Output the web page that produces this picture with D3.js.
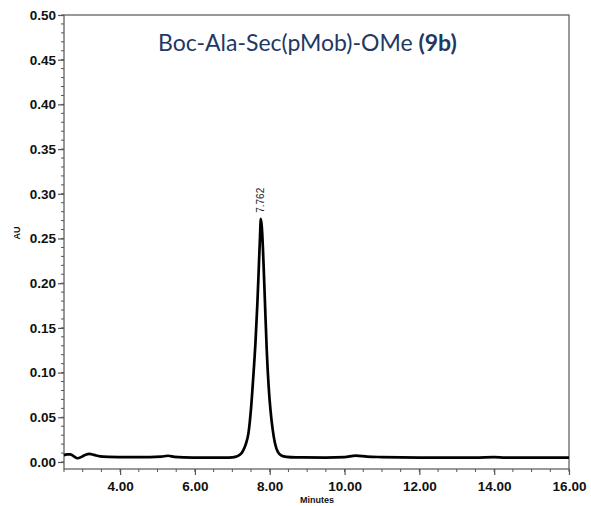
<!DOCTYPE html>
<html><head><meta charset="utf-8">
<script src="https://cdn.jsdelivr.net/npm/d3@7"></script>
<style>body{margin:0;background:#fff}svg{display:block}</style>
</head><body>
<svg id="c" width="591" height="506"></svg>
<script>
const times = [2.50,2.58,2.66,2.76,2.86,2.98,3.08,3.18,3.30,3.46,3.70,4.20,4.80,5.10,5.28,5.45,5.70,6.20,6.80,7.00,7.10,7.20,7.28,7.36,7.43,7.50,7.56,7.62,7.67,7.71,7.74,7.762,7.79,7.82,7.87,7.92,7.97,8.02,8.08,8.14,8.22,8.32,8.45,8.70,9.50,10.00,10.30,10.60,11.00,12.00,13.50,14.00,14.30,16.00];
const values = [0.0075,0.0085,0.0086,0.0065,0.0042,0.0060,0.0082,0.0090,0.0080,0.0063,0.0058,0.0055,0.0055,0.0060,0.0070,0.0058,0.0052,0.0050,0.0050,0.0052,0.0060,0.0080,0.0120,0.0200,0.0320,0.0600,0.0950,0.1350,0.1780,0.2200,0.2520,0.2720,0.2620,0.2370,0.1810,0.1250,0.0850,0.0580,0.0360,0.0210,0.0110,0.0070,0.0058,0.0052,0.0050,0.0055,0.0072,0.0060,0.0055,0.0050,0.0050,0.0055,0.0050,0.0050];
const xTicks = [4,6,8,10,12,14,16];
const yTicks = [0,0.05,0.10,0.15,0.20,0.25,0.30,0.35,0.40,0.45,0.50];
const peakTime = 7.762, peakValue = 0.272, peakLabel = "7.762";
const titleText = "Boc-Ala-Sec(pMob)-OMe ", titleBold = "(9b)";

const svg = d3.select("#c");
const L = 64, R = 569, T = 15, B = 469;
const x = d3.scaleLinear().domain([2.5, 16]).range([L, R]);
const y = d3.scaleLinear().domain([0, 0.5]).range([462, 15]);

// frame
svg.append("rect").attr("x", L).attr("y", T).attr("width", R - L).attr("height", B - T)
  .attr("fill", "none").attr("stroke", "#555").attr("stroke-width", 1.2);

// minor ticks
const xMinor = d3.range(2.5, 16.001, 0.5);
svg.append("g").selectAll("line").data(xMinor).join("line")
  .attr("x1", d => x(d)).attr("x2", d => x(d)).attr("y1", B).attr("y2", B + 3)
  .attr("stroke", "#555").attr("stroke-width", 1);
const yMinor = d3.range(0, 0.5001, 0.01);
svg.append("g").selectAll("line").data(yMinor).join("line")
  .attr("x1", L - 3).attr("x2", L).attr("y1", d => y(d)).attr("y2", d => y(d))
  .attr("stroke", "#555").attr("stroke-width", 1);

const xAxis = svg.append("g").attr("transform", `translate(0,${B})`)
  .call(d3.axisBottom(x).tickValues(xTicks).tickFormat(d3.format(".2f")).tickSize(6).tickPadding(6));
const yAxis = svg.append("g").attr("transform", `translate(${L},0)`)
  .call(d3.axisLeft(y).tickValues(yTicks).tickFormat(d3.format(".2f")).tickSize(6).tickPadding(2));
[xAxis, yAxis].forEach(g => {
  g.select(".domain").remove();
  g.selectAll(".tick line").attr("stroke", "#555").attr("stroke-width", 1.2);
  g.selectAll(".tick text").attr("fill", "#111").style("font-family", "Liberation Sans, Arial, sans-serif")
    .style("font-weight", "bold").style("font-size", "13.5px");
});

// trace
const line = d3.line().x((d, i) => x(times[i])).y(d => y(d)).curve(d3.curveMonotoneX);
svg.append("path").datum(values).attr("d", line).attr("fill", "none")
  .attr("stroke", "#000").attr("stroke-width", 2.7).attr("stroke-linejoin", "round");

// peak label
svg.append("text").attr("transform", `translate(${x(peakTime) + 3.5},${y(peakValue) - 6}) rotate(-90)`)
  .attr("text-anchor", "start").style("font-family", "Liberation Sans, Arial, sans-serif")
  .style("font-size", "10px").attr("fill", "#222").text(peakLabel);

// axis titles
svg.append("text").attr("transform", "translate(20,233) rotate(-90)").attr("text-anchor", "middle")
  .style("font-family", "Liberation Sans, Arial, sans-serif").style("font-weight", "bold")
  .style("font-size", "9px").attr("fill", "#111").text("AU");
svg.append("text").attr("x", 317).attr("y", 503).attr("text-anchor", "middle")
  .style("font-family", "Liberation Sans, Arial, sans-serif").style("font-weight", "bold")
  .style("font-size", "9px").attr("fill", "#111").text("Minutes");

// title
const t = svg.append("text").attr("x", 158).attr("y", 51)
  .style("font-family", "Lato, 'Open Sans', sans-serif").style("font-size", "23px").attr("fill", "#1f3864");
t.append("tspan").text(titleText);
t.append("tspan").style("font-weight", "bold").text(titleBold);
</script>
</body></html>
